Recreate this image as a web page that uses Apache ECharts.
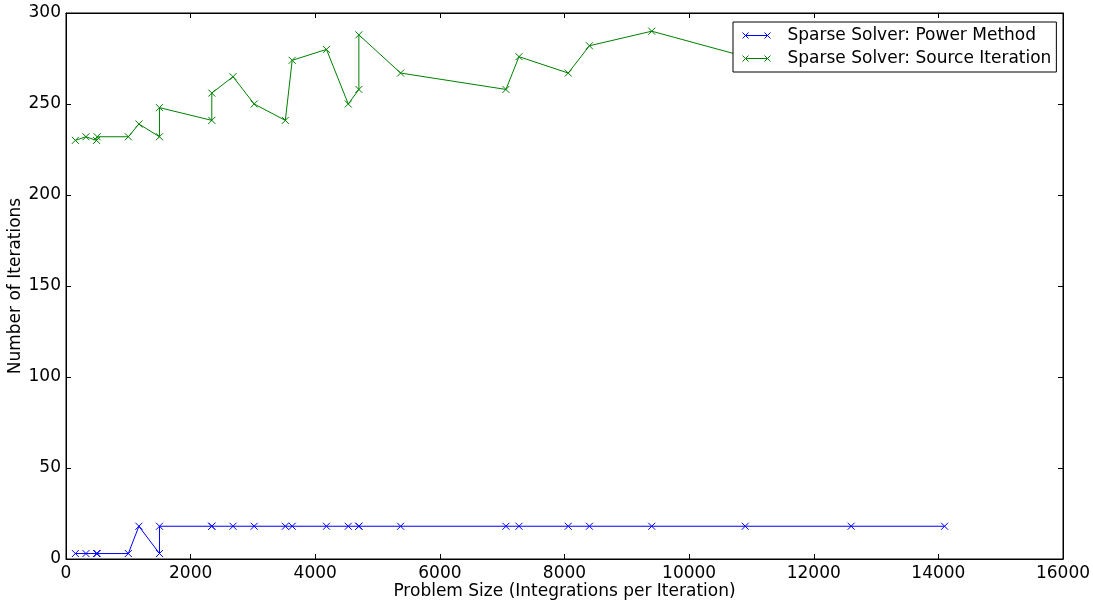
<!DOCTYPE html>
<html>
<head>
<meta charset="utf-8">
<script src="https://cdn.jsdelivr.net/npm/echarts@6/dist/echarts.min.js"></script>
<style>html,body{margin:0;padding:0;background:#fff;}#c{width:1093px;height:604px;}</style>
</head>
<body>
<div id="c"></div>
<script>
const problemSizes = [150, 320, 490, 500, 1000, 1170, 1500, 1500, 2340, 2340, 2680, 3020, 3520, 3630, 4180, 4530, 4700, 4700, 5370, 7060, 7270, 8060, 8400, 9400, 10900, 12600, 14100];
const powerMethod = [3, 3, 3, 3, 3, 18, 3, 18, 18, 18, 18, 18, 18, 18, 18, 18, 18, 18, 18, 18, 18, 18, 18, 18, 18, 18, 18];
const sourceIteration = [230, 232, 230, 232, 232, 239, 232, 248, 241, 256, 265, 250, 241, 274, 280, 250, 258, 288, 267, 258, 276, 267, 282, 290, 276, 278, 283];
const seriesNames = ['Sparse Solver: Power Method', 'Sparse Solver: Source Iteration'];
const xTitle = 'Problem Size (Integrations per Iteration)';
const yTitle = 'Number of Iterations';

const FONT = 'DejaVu Sans';
const FS = 17;
const BLUE = '#0000ff';
const GREEN = '#008000';
const xMarker = 'path://M0,0 L10,10 M0,10 L10,0';
const legendIcon = 'path://M0,2 L6,8 M0,8 L6,2 M3,5 L25,5 M22,2 L28,8 M22,8 L28,2';

function pairs(xs, ys) { return xs.map((x, i) => [x, ys[i]]); }

function mkSeries(name, ys, color) {
  return {
    name: name, type: 'line', data: pairs(problemSizes, ys),
    symbol: xMarker, symbolSize: 7, showAllSymbol: true,
    lineStyle: { color: color, width: 1 },
    itemStyle: { color: 'transparent', borderColor: color, borderWidth: 1 },
    emphasis: { disabled: true }, animation: false, z: 3
  };
}

const chart = echarts.init(document.getElementById('c'), null, { renderer: 'canvas' });
const tickCommon = { inside: true, length: 5, lineStyle: { color: '#000', width: 1 } };
const plain = v => String(v);
chart.setOption({
  backgroundColor: '#fff',
  animation: false,
  grid: { left: 66, right: 30, top: 13, bottom: 45, show: true, borderColor: '#000', borderWidth: 1, backgroundColor: 'transparent', containLabel: false, outerBoundsMode: 'none' },
  xAxis: [{
    type: 'value', min: 0, max: 16000, interval: 2000, position: 'bottom',
    name: xTitle, nameLocation: 'middle', nameGap: 24, nameMoveOverlap: false,
    nameTextStyle: { fontFamily: FONT, fontSize: FS, color: '#000' },
    axisLine: { show: true, onZero: false, lineStyle: { color: '#000' } },
    axisTick: tickCommon, splitLine: { show: false },
    axisLabel: { fontFamily: FONT, fontSize: FS, color: '#000', margin: 6, formatter: plain }
  }, {
    type: 'value', min: 0, max: 16000, interval: 2000, position: 'top',
    axisLine: { show: true, onZero: false, lineStyle: { color: '#000' } },
    axisTick: tickCommon, splitLine: { show: false }, axisLabel: { show: false }
  }],
  yAxis: [{
    type: 'value', min: 0, max: 300, interval: 50, position: 'left',
    name: yTitle, nameLocation: 'middle', nameGap: 42, nameMoveOverlap: false,
    nameTextStyle: { fontFamily: FONT, fontSize: FS, color: '#000' },
    axisLine: { show: true, onZero: false, lineStyle: { color: '#000' } },
    axisTick: tickCommon, splitLine: { show: false },
    axisLabel: { fontFamily: FONT, fontSize: FS, color: '#000', margin: 5, formatter: plain }
  }, {
    type: 'value', min: 0, max: 300, interval: 50, position: 'right',
    axisLine: { show: true, onZero: false, lineStyle: { color: '#000' } },
    axisTick: tickCommon, splitLine: { show: false }, axisLabel: { show: false }
  }],
  legend: {
    orient: 'vertical', left: 733, top: 22,
    backgroundColor: '#fff', borderColor: '#000', borderWidth: 1, borderRadius: 0,
    padding: [5, 5, 5, 9], itemGap: 6, itemWidth: 28, itemHeight: 8,
    textStyle: { fontFamily: FONT, fontSize: FS, color: '#000', padding: [0, 0, 0, 12] },
    selectedMode: false,
    data: [
      { name: seriesNames[0], icon: legendIcon, itemStyle: { color: 'transparent', borderColor: BLUE, borderWidth: 1 } },
      { name: seriesNames[1], icon: legendIcon, itemStyle: { color: 'transparent', borderColor: GREEN, borderWidth: 1 } }
    ]
  },
  series: [mkSeries(seriesNames[0], powerMethod, BLUE), mkSeries(seriesNames[1], sourceIteration, GREEN)]
});
</script>
</body>
</html>
